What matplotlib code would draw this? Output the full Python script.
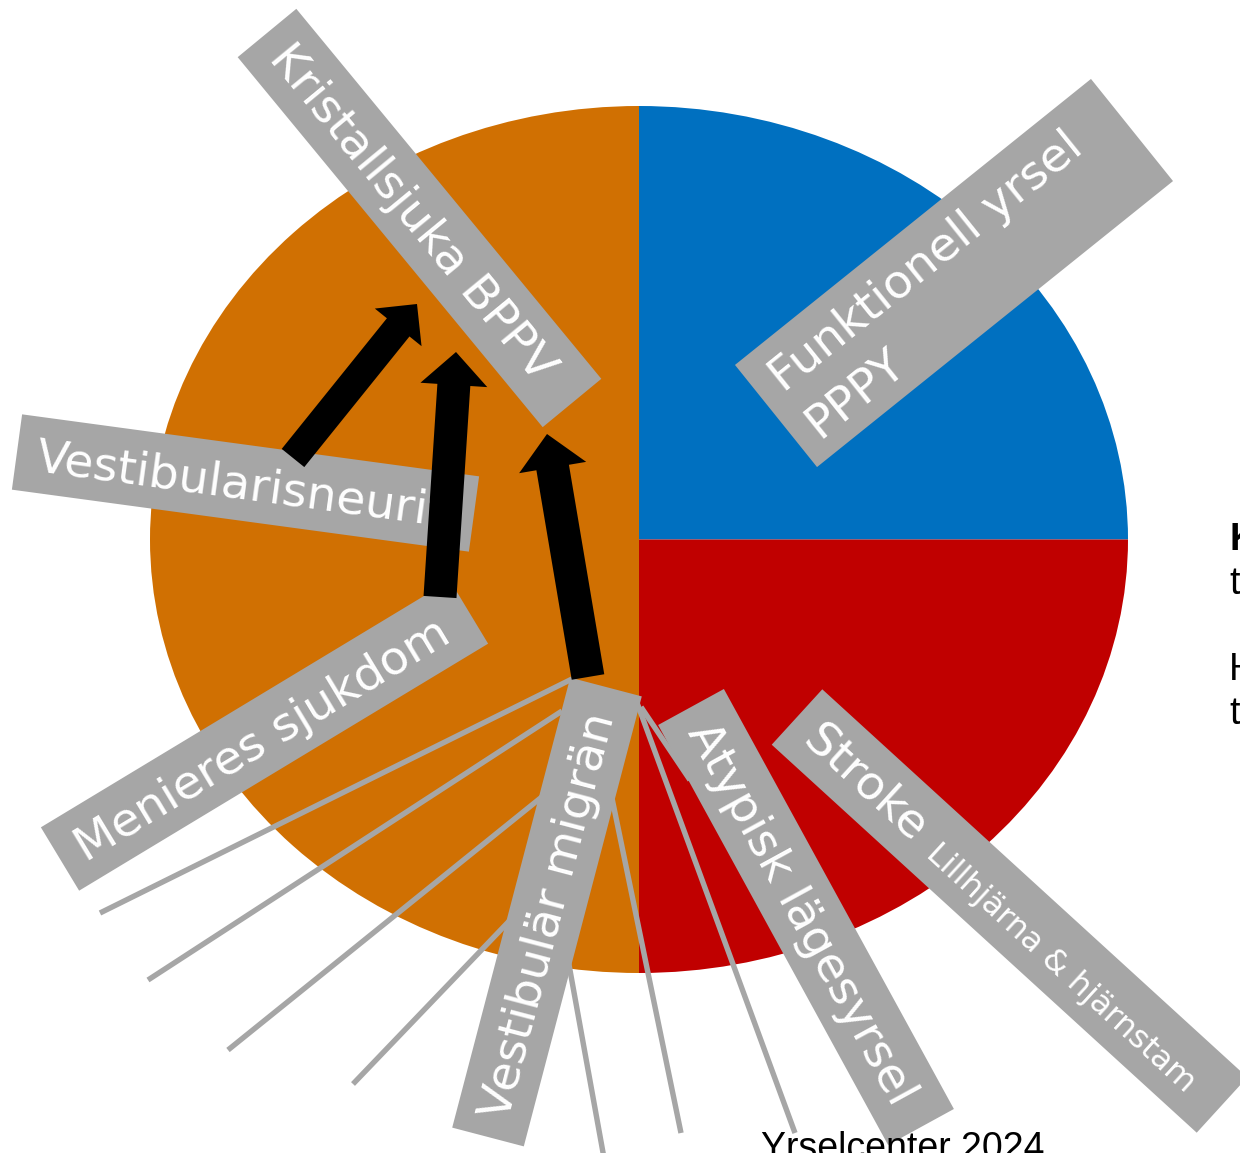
import numpy as np
import matplotlib.pyplot as plt
from matplotlib.patches import Polygon, FancyArrow

W, H = 1240, 1153

# pie: blue top-right, red bottom-right, orange left half
shares = [25, 25, 50]
slice_colors = ["#0070C0", "#C00000", "#D07002"]

# grey label boxes (pixel coords: start of box, end of box, thickness)
label_texts = ["Kristallsjuka BPPV", "Funktionell yrsel\nPPPY", "Vestibularisneurit",
               "Menieres sjukdom", "Vestibulär migrän", "Atypisk lägesyrsel", "Stroke"]
label_sub = ["", "", "", "", "", "", "Lillhjärna & hjärnstam"]
label_start = [(267, 33), (776, 416), (17, 452), (60, 859), (488, 1137), (691, 707), (797, 717)]
label_end = [(572, 403), (1132, 130), (474, 514), (469, 612), (606, 687), (921, 1127), (1222, 1105)]
label_thick = [76, 131, 76, 74, 74, 75, 75]

# thin grey spokes
spoke_start = [(572, 679), (562, 711), (548, 792), (515, 915), (560, 915), (600, 740), (636, 700), (641, 707)]
spoke_end = [(100, 913), (148, 980), (228, 1050), (353, 1084), (604, 1158), (681, 1133), (795, 1133), (690, 780)]

# black arrows (tail, tip, shaft width, head width, head length)
arrow_tail = [(293, 458), (440, 597), (588, 677)]
arrow_tip = [(417, 304), (456, 352), (547, 434)]
arrow_w = [29, 33, 33]
arrow_hw = [60, 67, 68]
arrow_hl = [30, 33, 34]

side_text = ["K", "t", "", "H", "t"]
side_bold = [True, False, False, False, False]

BOX = "#A6A6A6"
FS = 34  # pt, ~47 px

fig = plt.figure(figsize=(W / 100, H / 100), dpi=100)

pax = fig.add_axes([150 / W, (H - 973) / H, 978 / W, 867 / H])
pax.pie(shares, colors=slice_colors, startangle=90, counterclock=False, radius=1)
pax.set_xlim(-1, 1)
pax.set_ylim(-1, 1)
pax.set_aspect("auto")
pax.axis("off")

ax = fig.add_axes([0, 0, 1, 1])
ax.set_xlim(0, W)
ax.set_ylim(H, 0)
ax.axis("off")

for s, e in zip(spoke_start, spoke_end):
    ax.plot([s[0], e[0]], [s[1], e[1]], color=BOX, lw=3.9, solid_capstyle="butt", zorder=1)

for txt, sub, s, e, t in zip(label_texts, label_sub, label_start, label_end, label_thick):
    s = np.array(s, float)
    e = np.array(e, float)
    L = np.linalg.norm(e - s)
    u = (e - s) / L
    down = np.array([-u[1], u[0]])
    corners = [s - down * t / 2, e - down * t / 2, e + down * t / 2, s + down * t / 2]
    ax.add_patch(Polygon(corners, closed=True, color=BOX, lw=0, zorder=2))
    rot = np.degrees(np.arctan2(-u[1], u[0]))
    lines = txt.split("\n")
    n = len(lines)
    for i, ln in enumerate(lines):
        off = 16 + (i - (n - 1) / 2) * 58
        p = s + u * 20 + down * off
        ax.text(p[0], p[1], ln, color="white", fontsize=FS, rotation=rot,
                rotation_mode="anchor", ha="left", va="baseline", zorder=3)
    if sub:
        p = s + u * 188 + down * 16
        ax.text(p[0], p[1], sub, color="white", fontsize=23, rotation=rot,
                rotation_mode="anchor", ha="left", va="baseline", zorder=3)

for a, b, w, hw, hl in zip(arrow_tail, arrow_tip, arrow_w, arrow_hw, arrow_hl):
    ax.add_patch(FancyArrow(a[0], a[1], b[0] - a[0], b[1] - a[1], width=w, head_width=hw,
                            head_length=hl, length_includes_head=True, color="black",
                            lw=0, zorder=4))

for i, (st, bd) in enumerate(zip(side_text, side_bold)):
    if st:
        ax.text(1229, 550 + i * 43.5, st, fontsize=27, family="Liberation Sans",
                fontweight="bold" if bd else "normal", ha="left", va="baseline")

ax.text(761, 1159, "Yrselcenter 2024", fontsize=27, family="Liberation Sans",
        ha="left", va="baseline")

fig.savefig("out.png", dpi=100)
